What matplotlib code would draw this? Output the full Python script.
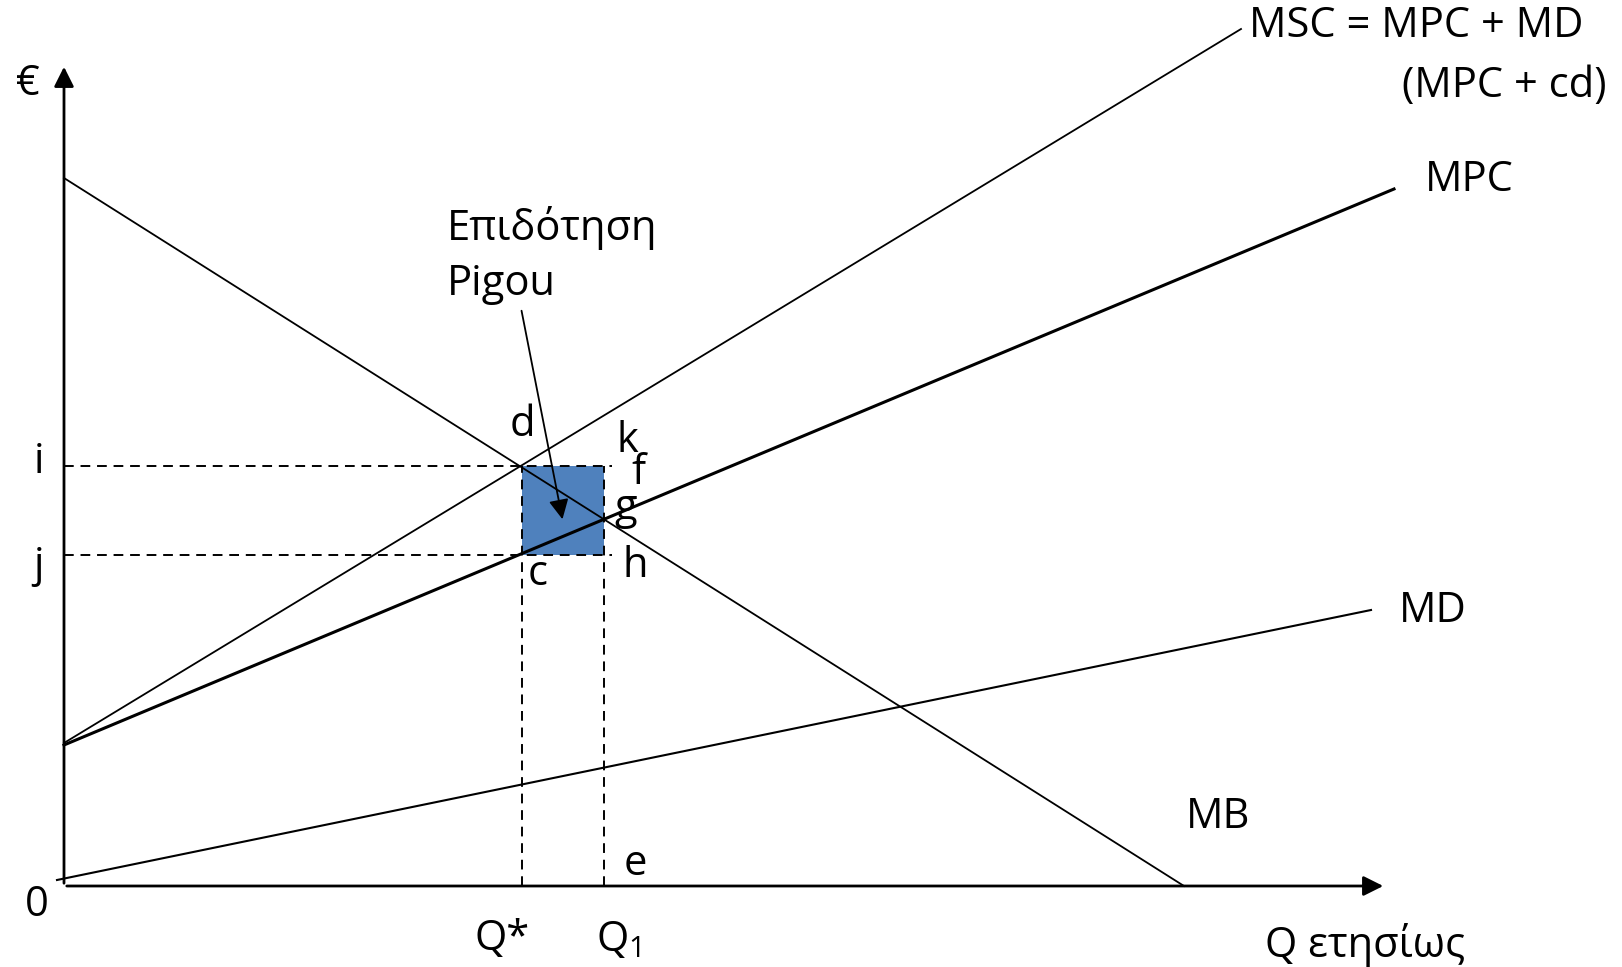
import matplotlib.pyplot as plt
from matplotlib.patches import Rectangle

plt.rcParams['font.family'] = ['Open Sans', 'DejaVu Sans']
plt.rcParams['mathtext.fontset'] = 'custom'
plt.rcParams['mathtext.rm'] = 'Open Sans'
plt.rcParams['mathtext.it'] = 'Open Sans'

# curve end points (Q, €)
mb_q = [0, 112.0]
mb_p = [70.8, 0]
mpc_q = [0, 133.0]
mpc_p = [14.1, 69.7]
msc_q = [0, 117.7]
msc_p = [14.3, 85.7]
md_q = [-0.7, 130.7]
md_p = [0.6, 27.6]

# equilibrium levels
q_star = 45.8
q_1 = 54.0
p_i = 42.0
p_j = 33.1

fig = plt.figure(figsize=(16.22, 9.67), dpi=100)
ax = fig.add_axes([0, 0, 1, 1])
ax.set_xlim(-6.4, 155.8)
ax.set_ylim(-8.1, 88.6)
ax.axis('off')

# subsidy rectangle
ax.add_patch(Rectangle((q_star, p_j), q_1 - q_star, p_i - p_j,
                       facecolor='#4f81bd', edgecolor='none', zorder=1))

# axes with arrow heads
ax.annotate('', xy=(0, 82.2), xytext=(0, 0),
            arrowprops=dict(arrowstyle='-|>', color='black', lw=2, mutation_scale=30))
ax.annotate('', xy=(132.2, 0), xytext=(0, 0),
            arrowprops=dict(arrowstyle='-|>', color='black', lw=2, mutation_scale=30))

# curves
ax.plot(mb_q, mb_p, color='black', lw=1.3, zorder=3)
ax.plot(mpc_q, mpc_p, color='black', lw=2.2, zorder=3)
ax.plot(msc_q, msc_p, color='black', lw=1.3, zorder=3)
ax.plot(md_q, md_p, color='black', lw=1.5, zorder=3)

# dashed guides
dash = dict(color='black', lw=1.4, ls=(0, (5, 3.5)), zorder=2)
ax.plot([0, q_1 + 0.8], [p_i, p_i], **dash)
ax.plot([0, q_1 + 0.8], [p_j, p_j], **dash)
ax.plot([q_star, q_star], [0, p_i], **dash)
ax.plot([q_1, q_1], [0, p_i], **dash)

# subsidy label and arrow
fs = 30
ax.text(38.3, 65.8, 'Επιδότηση', fontsize=fs, va='center', ha='left')
ax.text(38.3, 60.2, 'Pigou', fontsize=fs, va='center', ha='left')
ax.annotate('', xy=(49.9, 36.4), xytext=(45.7, 57.8),
            arrowprops=dict(arrowstyle='-|>', color='black', lw=1.3, mutation_scale=30),
            zorder=4)

# point labels
points = {'d': (45.8, 46.1), 'k': (56.3, 44.5), 'f': (57.4, 41.3), 'g': (56.2, 37.8),
          'h': (57.1, 32.0), 'c': (47.4, 31.2), 'e': (57.1, 2.2)}
for name, (x, y) in points.items():
    ax.text(x, y, name, fontsize=fs, ha='center', va='center')

ax.text(-2.5, 42.4, 'i', fontsize=fs, ha='center', va='center')
ax.text(-2.5, 32.0, 'j', fontsize=fs, ha='center', va='center')
ax.text(-2.7, -1.9, '0', fontsize=fs, ha='center', va='center')
ax.text(-3.6, 80.2, '€', fontsize=fs, ha='center', va='center')
ax.text(43.8, -5.3, 'Q*', fontsize=fs, ha='center', va='center')
ax.text(55.5, -5.4, 'Q$_1$', fontsize=fs, ha='center', va='center')
ax.text(130.1, -5.9, 'Q ετησίως', fontsize=fs, ha='center', va='center')

# curve labels
ax.text(118.5, 86.0, 'MSC = MPC + MD', fontsize=fs, ha='left', va='center')
ax.text(154.3, 80.0, '(MPC + cd)', fontsize=fs, ha='right', va='center')
ax.text(140.5, 70.6, 'MPC', fontsize=fs, ha='center', va='center')
ax.text(136.9, 27.5, 'MD', fontsize=fs, ha='center', va='center')
ax.text(115.4, 6.9, 'MB', fontsize=fs, ha='center', va='center')

fig.savefig('out.png', dpi=100)
